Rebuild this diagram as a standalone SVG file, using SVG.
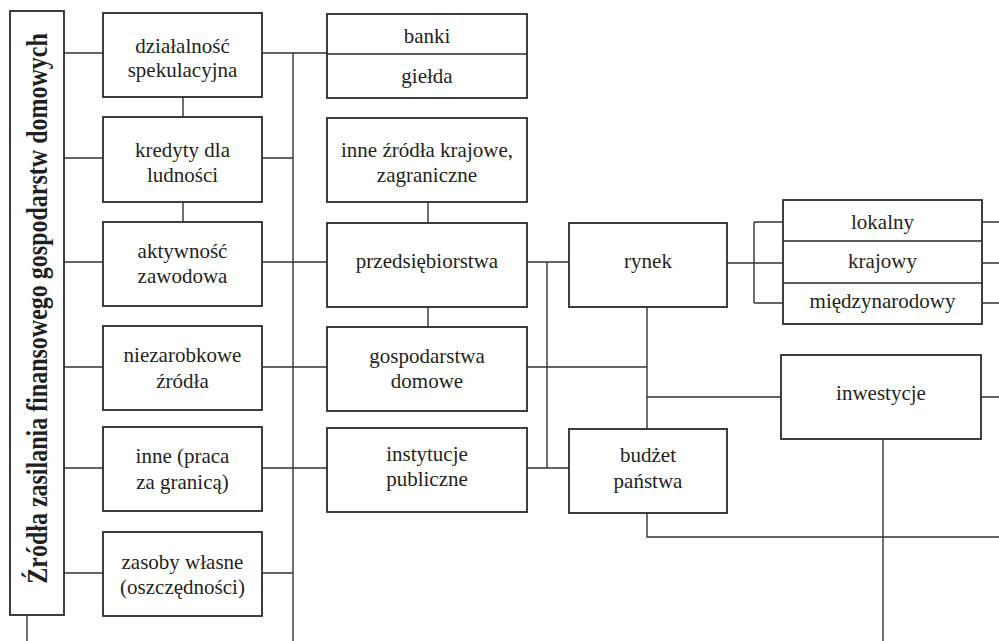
<svg xmlns="http://www.w3.org/2000/svg" width="999" height="641" viewBox="0 0 999 641">
<style>
.box{fill:#fff;stroke:#2a2a2a;stroke-width:1.8}
.div{stroke:#2a2a2a;stroke-width:1.6;fill:none}
.c{stroke:#333;stroke-width:1.4;fill:none}
text{font-family:'Liberation Serif','Times New Roman','DejaVu Serif',serif;font-size:21px;fill:#231f20;text-anchor:middle}
.title{font-weight:bold;font-size:24px}
</style>
<rect width="999" height="641" fill="#fff"/>
<g id="connectors" class="c">
<path d="M27 615V641"/>
<path d="M64 53H103M64 158H103M64 262H103M64 367H103M64 468H103M64 573H103"/>
<path d="M183 97V117M183 202V222"/>
<path d="M262 53H327M262 158H293M262 262H327M262 367H327M262 468H327M262 573H293"/>
<path d="M293 53V641"/>
<path d="M428 202V223M428 307V327"/>
<path d="M527 262H569M547 262V468M527 367H647M527 468H569"/>
<path d="M647 307V429M647 397H781"/>
<path d="M727 263H783M754 222V303M754 222H783M754 303H783"/>
<path d="M982 222H999M982 263H999M982 303H999M981 397H999"/>
<path d="M647 513V537H999"/>
<path d="M883 439V641"/>
</g>
<g id="title">
<rect class="box" x="10" y="11" width="54" height="604"/>
<text class="title" transform="translate(47,308.5) rotate(-90) scale(1,1.2)" x="0" y="0">Źródła zasilania finansowego gospodarstw domowych</text>
</g>
<g id="dzialalnosc">
<rect class="box" x="103" y="13" width="159" height="84"/>
<text x="182.5" y="53">działalność</text><text x="182.5" y="77">spekulacyjna</text>
</g>
<g id="kredyty">
<rect class="box" x="103" y="117" width="159" height="85"/>
<text x="182.5" y="157">kredyty dla</text><text x="182.5" y="182">ludności</text>
</g>
<g id="aktywnosc">
<rect class="box" x="103" y="222" width="159" height="84"/>
<text x="182.5" y="258">aktywność</text><text x="182.5" y="283">zawodowa</text>
</g>
<g id="niezarobkowe">
<rect class="box" x="103" y="326" width="159" height="84"/>
<text x="182.5" y="362">niezarobkowe</text><text x="182.5" y="388">źródła</text>
</g>
<g id="inne-praca">
<rect class="box" x="103" y="427" width="159" height="84"/>
<text x="182.5" y="463">inne (praca</text><text x="182.5" y="489">za granicą)</text>
</g>
<g id="zasoby">
<rect class="box" x="103" y="532" width="159" height="84"/>
<text x="182.5" y="569">zasoby własne</text><text x="182.5" y="594">(oszczędności)</text>
</g>
<g id="banki-gielda">
<rect class="box" x="327" y="14" width="200" height="84"/>
<path class="div" d="M327 54H527"/>
<text x="427" y="43">banki</text><text x="427" y="83">giełda</text>
</g>
<g id="inne-zrodla">
<rect class="box" x="327" y="118" width="200" height="84"/>
<text x="427" y="157">inne źródła krajowe,</text><text x="427" y="182">zagraniczne</text>
</g>
<g id="przedsiebiorstwa">
<rect class="box" x="327" y="223" width="200" height="84"/>
<text x="427" y="268">przedsiębiorstwa</text>
</g>
<g id="gospodarstwa">
<rect class="box" x="327" y="327" width="200" height="84"/>
<text x="427" y="363">gospodarstwa</text><text x="427" y="388">domowe</text>
</g>
<g id="instytucje">
<rect class="box" x="327" y="428" width="200" height="84"/>
<text x="427" y="461">instytucje</text><text x="427" y="486">publiczne</text>
</g>
<g id="rynek">
<rect class="box" x="569" y="223" width="158" height="84"/>
<text x="648" y="268">rynek</text>
</g>
<g id="budzet">
<rect class="box" x="569" y="429" width="158" height="84"/>
<text x="648" y="462">budżet</text><text x="648" y="488">państwa</text>
</g>
<g id="rynki">
<rect class="box" x="783" y="200" width="199" height="124"/>
<path class="div" d="M783 241H982M783 283H982"/>
<text x="882.5" y="229">lokalny</text><text x="882.5" y="268">krajowy</text><text x="882.5" y="308">międzynarodowy</text>
</g>
<g id="inwestycje">
<rect class="box" x="781" y="355" width="200" height="84"/>
<text x="881" y="400">inwestycje</text>
</g>
</svg>
